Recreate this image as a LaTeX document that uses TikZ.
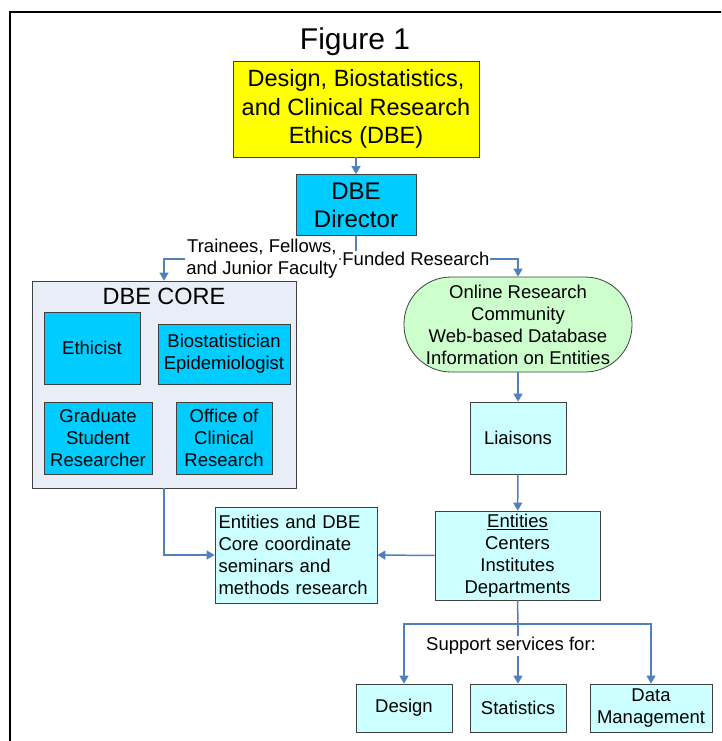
\documentclass[tikz,border=0pt]{standalone}
\usepackage{fontspec}
\setmainfont{Liberation Sans}
\usepackage{xcolor}
\usepackage{tikz}
\usetikzlibrary{arrows.meta, positioning}

\definecolor{dbeyellow}{RGB}{255,255,0}
\definecolor{dbecyan}{RGB}{0,204,255}
\definecolor{corebg}{RGB}{232,237,247}
\definecolor{onlinegreen}{RGB}{204,255,204}
\definecolor{palecyan}{RGB}{204,255,255}
\definecolor{linkblue}{RGB}{79,129,189}

\tikzset{
  box/.style={draw=black!75, line width=0.8pt, align=center, inner sep=0pt,
    font=\fontsize{18.5}{22}\selectfont},
  cyanbox/.style={box, fill=dbecyan},
  palebox/.style={box, fill=palecyan},
  lbl/.style={fill=white, inner sep=1pt, align=center,
    font=\fontsize{18.5}{22}\selectfont},
  wire/.style={draw=linkblue, line width=1.5pt},
  conn/.style={wire, -{Triangle[width=9pt,length=8pt]}}
}

\begin{document}
\begin{tikzpicture}[x=1pt, y=-1pt]

  \useasboundingbox (0,0) rectangle (721,741);
  \clip (0,0) rectangle (721,741);
  \draw[line width=2pt] (10,760) |- (740,12);

  % Définition des blocs
  \node[font=\fontsize{30}{36}\selectfont] (title) at (355,42) {Figure 1};
  \node[box, fill=dbeyellow, minimum width=246, minimum height=96,
        font=\fontsize{23.5}{28.5}\selectfont] (dbe) at (356,109)
        {Design, Biostatistics,\\and Clinical Research\\Ethics (DBE)};
  \node[cyanbox, minimum width=120, minimum height=61,
        font=\fontsize{24}{28}\selectfont] (director) at (356,205) {DBE\\Director};

  \node[box, fill=corebg, minimum width=264, minimum height=207] (core) at (164,384.5) {};
  \node[font=\fontsize{23.5}{28}\selectfont] (coretitle) at (164,296) {DBE CORE};
  \node[cyanbox, minimum width=96, minimum height=72] (ethicist) at (92,348) {Ethicist};
  \node[cyanbox, minimum width=132, minimum height=60] (biostat) at (224,354)
        {Biostatistician\\Epidemiologist};
  \node[cyanbox, minimum width=108, minimum height=72] (grad) at (98,438)
        {Graduate\\Student\\Researcher};
  \node[cyanbox, minimum width=96, minimum height=72] (office) at (224,438)
        {Office of\\Clinical\\Research};

  \node[box, fill=onlinegreen, minimum width=228, minimum height=95,
        rounded corners=47pt] (online) at (518,324.5)
        {Online Research\\Community\\Web-based Database\\Information on Entities};
  \node[palebox, minimum width=96, minimum height=72] (liaisons) at (518,438) {Liaisons};
  \node[palebox, minimum width=165, minimum height=89] (entities) at (517.5,555.5)
        {\underline{Entities}\\Centers\\Institutes\\Departments};
  \node[palebox, minimum width=162, minimum height=96, text width=155,
        align=left, inner xsep=3.5pt] (coord) at (296,555)
        {Entities and DBE\\Core coordinate\\seminars and\\methods research};

  \node[palebox, minimum width=96, minimum height=48] (design) at (404,708) {Design};
  \node[palebox, minimum width=96, minimum height=48] (stats) at (518,708) {Statistics};
  \node[palebox, minimum width=122, minimum height=48] (datam) at (651,708)
        {Data\\Management};

  % Définition des liaisons
  \coordinate (split) at (356,259);
  \coordinate (bus) at (518,624);
  \draw[conn] (dbe) -- (director);
  \draw[wire] (director) -- (split);
  \draw[conn] (split) -| node[lbl, pos=0.245] {Trainees, Fellows,\\and Junior Faculty} (core.north);
  \draw[conn] (split) -| node[lbl, pos=0.185] {Funded Research} (online.north);
  \draw[conn] (online) -- (liaisons);
  \draw[conn] (liaisons) -- (entities);
  \draw[conn] (core.south) |- (coord.west);
  \draw[conn] (entities.west) -- (coord.east);
  \draw[wire] (entities.south) -- (bus);
  \draw[conn] (bus) -| (design.north);
  \draw[conn] (bus) -- (stats.north);
  \draw[conn] (bus) -| (datam.north);
  \node[lbl] (support) at (511,646) {Support services for:};

\end{tikzpicture}
\end{document}
